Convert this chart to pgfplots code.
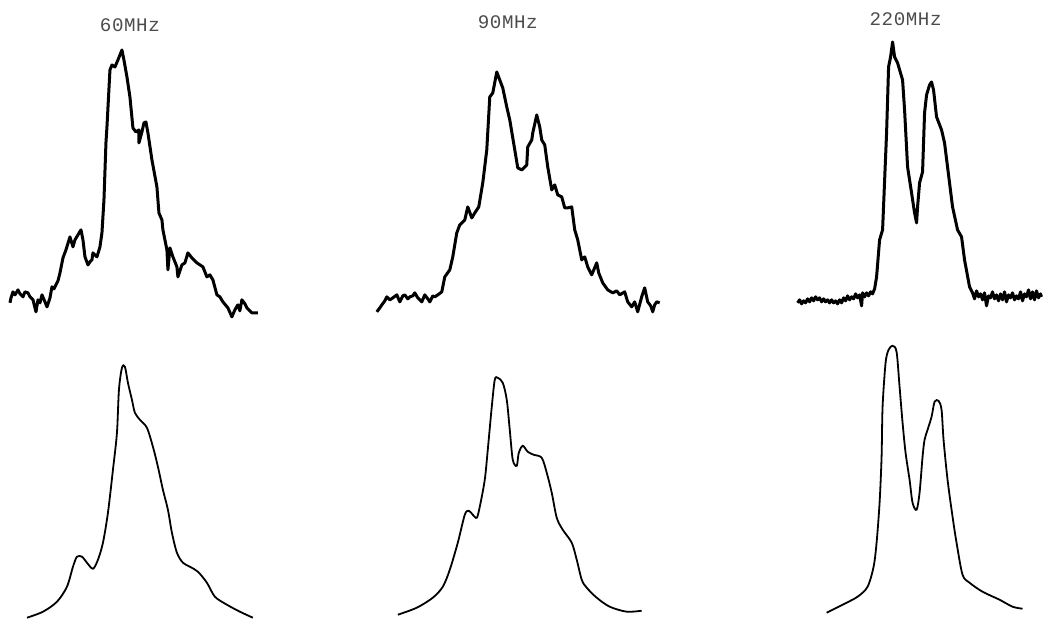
\documentclass[border=0pt]{standalone}
\usepackage{fontspec}
\setmainfont{Liberation Sans}
\newfontfamily\titlefont[LetterSpace=3]{Liberation Mono}
\usepackage{pgfplots}
\pgfplotsset{compat=1.18}
\pgfplotsset{
  panel/.style={hide axis, scale only axis, y dir=reverse, clip=false, anchor=north west},
}
\tikzset{
  exper/.style={black, line width=1.5pt, line join=round},
  simul/.style={black, line width=0.9pt, smooth, tension=0.5},
  ttl/.style={font=\titlefont\fontsize{9.6}{11}\selectfont, text=black!70}
}
\begin{document}
\begin{tikzpicture}
\path (0pt,0pt) rectangle (521.5pt,309.5pt);
% ---------------- top row: experimental ----------------
\begin{axis}[panel, xmin=0, xmax=265, ymin=30, ymax=320, width=132.5pt, height=145pt, at={(0pt,294.5pt)}]
\addplot[exper] coordinates {
(10,303) (11,298) (13,292) (15,295) (18,290) (20,294) (23,297) (25,292) (28,293) (30,297) (33,300) (36,312) (38,300) (40,303) (42,295) (45,302)
(47,307) (50,298) (52,287) (54,289) (56,285) (58,281) (60,273) (63,258) (66,250) (70,237) (73,247) (75,240) (78,235)
(81,230) (83,240) (85,257) (88,265) (90,262) (92,260) (93,253) (97,257) (100,247) (102,233) (104,200)
(106,143) (107,127) (110,70) (112,65) (115,67) (118,60) (122,50) (124,60) (127,77) (130,97)
(133,128) (136,132) (139,130) (139,143) (142,132) (144,123) (146,122) (148,133) (152,160) (157,187)
(159,213) (162,220) (163,230) (167,250) (168,270) (170,248) (173,257) (177,267) (178,277) (182,265)
(185,263) (188,253) (192,258) (197,263) (203,267) (207,277) (210,275) (213,280) (217,295) (220,297)
(223,302) (228,308) (232,317) (235,310) (238,305) (240,311) (242,300) (245,304) (247,308) (250,311) (252,313) (258,313)};
\node[ttl] at (axis cs:130,25) {60MHz};
\end{axis}
\begin{axis}[panel, xmin=370, xmax=665, ymin=30, ymax=320, width=147.5pt, height=145pt, at={(185pt,294.5pt)}]
\addplot[exper] coordinates {
(377,312) (380,308) (382,305) (385,301) (387,297) (390,300) (393,298) (397,295) (400,302) (403,296) (405,295) (408,299) (410,297) (413,296) (415,293) (418,298) (422,302)
(425,295) (428,299) (430,302) (433,296) (435,297) (438,295) (442,292) (445,277) (450,270) (453,257) (457,233) (460,225) (465,220)
(468,207) (472,218) (475,213) (479,207) (483,183) (487,150) (490,97) (493,93) (497,72) (500,80)
(503,88) (507,107) (510,120) (515,150) (518,168) (522,170) (527,165) (528,147) (532,140) (533,133)
(537,115) (540,127) (542,140) (545,145) (548,167) (552,190) (555,185) (558,195) (562,197) (565,208)
(568,208) (572,207) (575,230) (578,240) (582,260) (585,257) (588,267) (592,275) (597,263) (599,273)
(603,283) (608,290) (613,293) (617,291) (620,295) (625,292) (628,302) (632,307) (635,302) (638,312) (642,297)
(645,288) (648,302) (651,306) (653,312) (655,305) (657,302) (660,303)};
\node[ttl] at (axis cs:508,22) {90MHz};
\end{axis}
\begin{axis}[panel, xmin=790, xmax=1043, ymin=30, ymax=320, width=126.5pt, height=145pt, at={(395pt,294.5pt)}]
\addplot[exper] coordinates {
(798,303) (800,300) (802,304) (804,301) (806,303) (808,299) (810,302) (812,298) (814,301) (816,297)
(818,300) (820,298) (822,302) (824,299) (826,302) (828,300) (830,303) (832,300) (834,303) (836,301)
(838,304) (840,300) (842,303) (844,298) (846,301) (848,296) (850,300) (852,297) (854,299) (856,294)
(858,298) (860,295) (862,306) (863,293) (865,297) (867,293) (869,296) (871,292) (873,294) (875,289)
(877,277) (880,240) (883,230) (886,157) (887,133) (889,67) (891,57) (893,42) (895,57) (898,63) (903,80)
(905,110) (908,167) (912,193) (915,213) (917,223) (918,207) (920,183) (923,172) (925,113) (927,95)
(930,85) (932,82) (934,90) (937,117) (942,130) (945,143) (950,183) (953,207) (958,230) (962,237)
(965,260) (970,287) (973,293) (975,299) (977,291) (979,297) (981,294) (983,300) (985,293) (987,306)
(989,296) (991,298) (993,292) (995,299) (997,295) (999,301) (1001,294) (1003,300) (1005,292) (1007,302)
(1009,295) (1011,298) (1013,293) (1015,300) (1017,296) (1019,299) (1021,292) (1023,301) (1025,294) (1027,297)
(1029,290) (1031,299) (1033,292) (1035,300) (1037,291) (1039,298) (1041,294) (1042,297)};
\node[ttl] at (axis cs:906,19) {220MHz};
\end{axis}
% ---------------- bottom row: simulated ----------------
\begin{axis}[panel, xmin=0, xmax=265, ymin=335, ymax=619, width=132.5pt, height=142pt, at={(0pt,142pt)}]
\addplot[simul] coordinates {
(27,618) (43,612) (57,602) (67,587) (73,567) (77,557) (82,557) (87,563) (93,569) (98,560)
(103,543) (108,513) (113,470) (117,433) (119,390) (122,368) (125,367) (128,383) (132,400) (135,413)
(140,420) (147,428) (153,447) (158,467) (163,490) (168,510) (172,533) (177,553) (183,563) (190,567)
(198,572) (207,583) (215,597) (227,605) (240,612) (253,618)};
\end{axis}
\begin{axis}[panel, xmin=370, xmax=665, ymin=335, ymax=619, width=147.5pt, height=142pt, at={(185pt,142pt)}]
\addplot[simul] coordinates {
(398,615) (417,608) (433,598) (443,587) (450,570) (458,543) (465,515) (469,511) (473,515) (477,518)
(480,507) (485,480) (488,450) (492,407) (495,380) (498,378) (503,383) (507,400) (510,430) (513,460)
(517,466) (519,453) (523,446) (528,452) (534,455) (542,458) (547,473) (552,493) (557,518) (563,530)
(572,543) (577,560) (582,580) (587,588) (597,598) (610,607) (627,612) (642,611)};
\end{axis}
\begin{axis}[panel, xmin=790, xmax=1043, ymin=335, ymax=619, width=126.5pt, height=142pt, at={(395pt,142pt)}]
\addplot[simul] coordinates {
(827,613) (843,605) (858,597) (868,587) (874,567) (877,543) (880,503) (882,457) (883,407) (886,363)
(889,350) (893,346) (897,352) (900,387) (903,423) (906,453) (910,480) (913,503) (917,510) (920,493)
(923,457) (925,440) (928,430) (932,417) (935,402) (939,401) (942,410) (944,440) (948,480) (953,517)
(957,543) (963,575) (970,583) (983,592) (1000,600) (1013,607) (1023,609)};
\end{axis}
\end{tikzpicture}
\end{document}
